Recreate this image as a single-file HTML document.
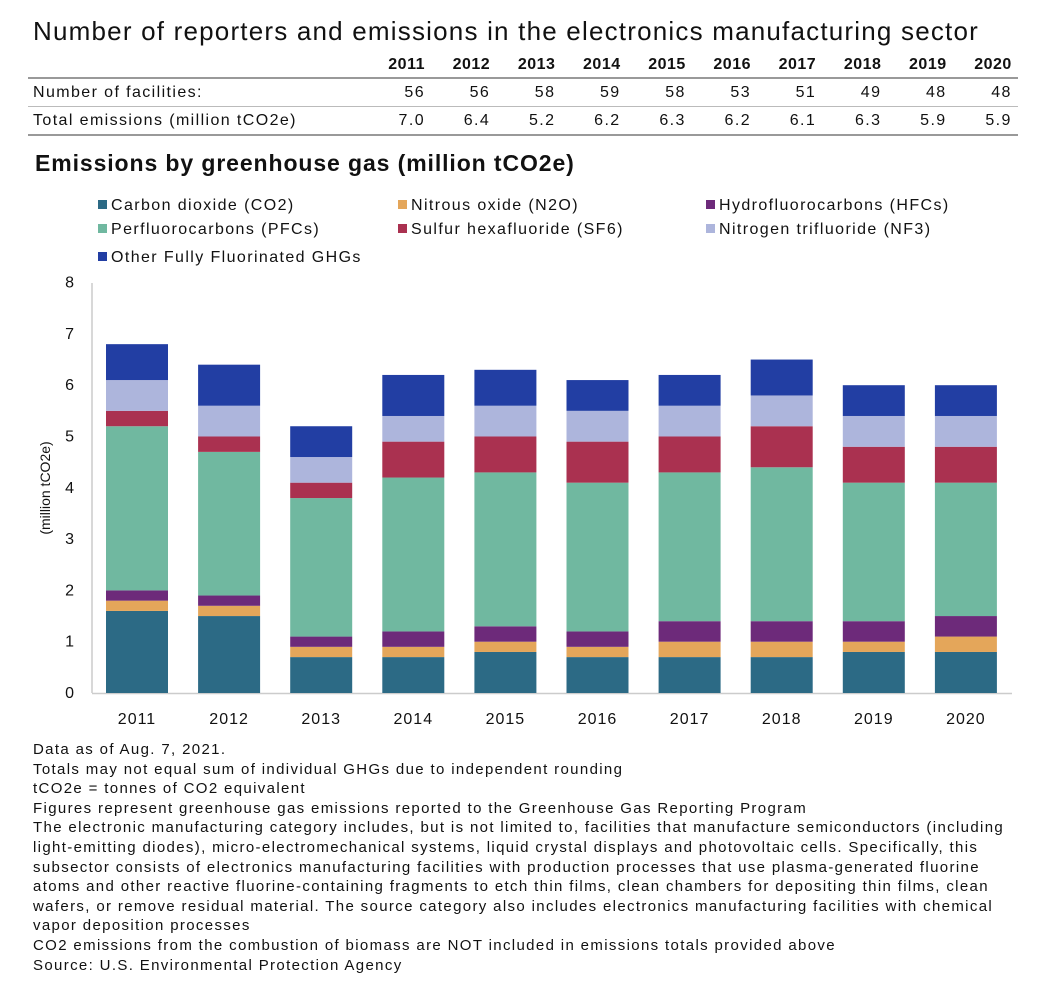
<!DOCTYPE html>
<html><head><meta charset="utf-8"><style>
body{margin:0;background:#fff;font-family:"Liberation Sans",sans-serif;color:#111;}
#root{position:relative;width:1056px;height:1002px;overflow:hidden;}
.t{position:absolute;white-space:nowrap;}
.line{position:absolute;left:28px;width:990px;background:#999;}
</style></head><body><div id="root">
<div class="t" style="left:33px;top:16px;font-size:26px;letter-spacing:1.2px;">Number of reporters and emissions in the electronics manufacturing sector</div>
<div id="tbl"></div>
<div class="line" style="top:77px;height:2px;"></div>
<div class="line" style="top:106px;height:1px;background:#bbb;"></div>
<div class="line" style="top:134px;height:2px;"></div>
<div class="t" style="left:35px;top:150px;font-size:23px;font-weight:bold;letter-spacing:0.9px;">Emissions by greenhouse gas (million tCO2e)</div>
<svg id="chart" width="1056" height="1002" style="position:absolute;left:0;top:0;font-family:'Liberation Sans',sans-serif;"></svg>
<div class="t" style="left:33px;top:740px;font-size:15px;letter-spacing:1.35px;line-height:19.6px;">Data as of Aug. 7, 2021.<br>Totals may not equal sum of individual GHGs due to independent rounding<br>tCO2e = tonnes of CO2 equivalent<br>Figures represent greenhouse gas emissions reported to the Greenhouse Gas Reporting Program<br>The electronic manufacturing category includes, but is not limited to, facilities that manufacture semiconductors (including<br>light-emitting diodes), micro-electromechanical systems, liquid crystal displays and photovoltaic cells. Specifically, this<br>subsector consists of electronics manufacturing facilities with production processes that use plasma-generated fluorine<br>atoms and other reactive fluorine-containing fragments to etch thin films, clean chambers for depositing thin films, clean<br>wafers, or remove residual material. The source category also includes electronics manufacturing facilities with chemical<br>vapor deposition processes<br>CO2 emissions from the combustion of biomass are NOT included in emissions totals provided above<br>Source: U.S. Environmental Protection Agency</div>
</div>
<script>
const years=['2011','2012','2013','2014','2015','2016','2017','2018','2019','2020'];
const facilities=['56','56','58','59','58','53','51','49','48','48'];
const totals=['7.0','6.4','5.2','6.2','6.3','6.2','6.1','6.3','5.9','5.9'];
const seriesNames=['Carbon dioxide (CO2)','Nitrous oxide (N2O)','Hydrofluorocarbons (HFCs)','Perfluorocarbons (PFCs)','Sulfur hexafluoride (SF6)','Nitrogen trifluoride (NF3)','Other Fully Fluorinated GHGs'];
const co2=[1.6,1.5,0.7,0.7,0.8,0.7,0.7,0.7,0.8,0.8];
const n2o=[0.2,0.2,0.2,0.2,0.2,0.2,0.3,0.3,0.2,0.3];
const hfc=[0.2,0.2,0.2,0.3,0.3,0.3,0.4,0.4,0.4,0.4];
const pfc=[3.2,2.8,2.7,3.0,3.0,2.9,2.9,3.0,2.7,2.6];
const sf6=[0.3,0.3,0.3,0.7,0.7,0.8,0.7,0.8,0.7,0.7];
const nf3=[0.6,0.6,0.5,0.5,0.6,0.6,0.6,0.6,0.6,0.6];
const other=[0.7,0.8,0.6,0.8,0.7,0.6,0.6,0.7,0.6,0.6];
const yTicks=[0,1,2,3,4,5,6,7,8];
const series=[co2,n2o,hfc,pfc,sf6,nf3,other];
const colors=['#2c6a85','#e4a65a','#6d2a7a','#70b8a0','#aa3150','#adb5dc','#223ea3'];
const keys=['co2','n2o','hfc','pfc','sf6','nf3','other'];

const tbl=document.getElementById('tbl');
function cell(txt,x,y,bold,name,right){
  const d=document.createElement('div');
  d.className='t';
  
  
  d.style.top=y+'px';d.style.fontSize='16px';
  if(bold){d.style.fontWeight='bold';d.style.letterSpacing='0.5px';}else d.style.letterSpacing='1.4px';
  if(right){d.style.right=(1056-x)+'px';}else d.style.left=x+'px';
  d.textContent=txt;tbl.appendChild(d);
}
const colX=i=>425+i*65.2;
years.forEach((y,i)=>{cell(y,colX(i),56,true,'year-header',true);cell(facilities[i],colX(i),84,false,'facilities-value',true);cell(totals[i],colX(i),112,false,'total-emissions-value',true);});
cell('Number of facilities:',33,84,false,'row-label-facilities',false);
cell('Total emissions (million tCO2e)',33,112,false,'row-label-emissions',false);

const svg=document.getElementById('chart');const NS='http://www.w3.org/2000/svg';
function el(t,a){const e=document.createElementNS(NS,t);for(const k in a)e.setAttribute(k,a[k]);svg.appendChild(e);return e;}
const y0=693,pxu=51.3,x0=137,dx=92.1,bw=62;
const yS=v=>y0-v*pxu, xS=i=>x0+i*dx;
let ax=el('line',{x1:92,y1:283,x2:92,y2:693,stroke:'#ccc','stroke-width':1.5});

let bx=el('line',{x1:92,y1:693.5,x2:1012,y2:693.5,stroke:'#ccc','stroke-width':1.5});

yTicks.forEach(v=>{const t=el('text',{x:74,y:yS(v)+5,'text-anchor':'end','font-size':16,fill:'#111'});t.textContent=v;
});
const yt=el('text',{transform:'translate(50,488) rotate(-90)','text-anchor':'middle','font-size':14,fill:'#111'});yt.textContent='(million tCO2e)';

years.forEach((yr,i)=>{let acc=0;
  series.forEach((s,k)=>{const r=el('rect',{x:xS(i)-bw/2,y:yS(acc+s[i]),width:bw,height:s[i]*pxu,fill:colors[k]});
    acc+=s[i];});
  const t=el('text',{x:xS(i),y:724,'text-anchor':'middle','font-size':16,'letter-spacing':1,fill:'#111'});t.textContent=yr;
  
});
const lx=[98,398,706],ly=[205,229,257];
seriesNames.forEach((n,k)=>{const x=lx[k%3],y=ly[Math.floor(k/3)];
  const g=document.createElementNS(NS,'g');svg.appendChild(g);
  
  
  const r=document.createElementNS(NS,'rect');r.setAttribute('x',x);r.setAttribute('y',y-5);r.setAttribute('width',9);r.setAttribute('height',9);r.setAttribute('fill',colors[k]);g.appendChild(r);
  const t=document.createElementNS(NS,'text');t.setAttribute('x',x+13);t.setAttribute('y',y+5);t.setAttribute('font-size',16);t.setAttribute('letter-spacing',1.4);t.setAttribute('fill','#111');t.textContent=n;g.appendChild(t);
});
</script></body></html>
